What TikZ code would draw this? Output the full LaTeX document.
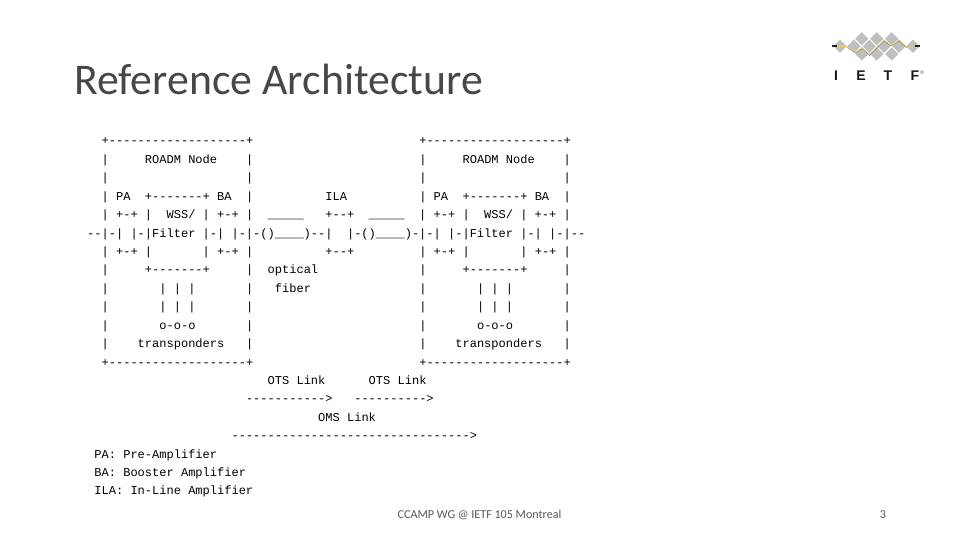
\documentclass[tikz,border=0pt]{standalone}
\usepackage{fontspec}
\setmainfont{Carlito}
\newfontfamily\asciifont{Liberation Mono}
\newfontfamily\logofont{Liberation Sans}
\tikzset{
  x=1pt,y=-1pt,
  asciiline/.style={anchor=base west,inner sep=0pt,font=\asciifont\fontsize{12.03}{14}\selectfont,text=black},
  titletext/.style={anchor=base west,inner sep=0pt,font=\fontsize{43.8}{48}\selectfont,text=black!72},
  foottext/.style={anchor=base,inner sep=0pt,font=\fontsize{12.1}{14}\selectfont,text=black!65},
  logoletter/.style={anchor=base,inner sep=0pt,font=\logofont\bfseries\fontsize{14}{15}\selectfont,text=black!90},
  gem/.style={fill=black!25,draw=none}
}
\newcommand{\gemat}[2]{\fill[gem] (#1-6.6,#2) -- (#1,#2-6.6) -- (#1+6.6,#2) -- (#1,#2+6.6) -- cycle;}
\begin{document}
\begin{tikzpicture}
\useasboundingbox (0,0) rectangle (960,540);
\fill[white] (0,0) rectangle (960,540);
\node[titletext] (title) at (74,95) {Reference Architecture};
\foreach \n/\i/\t in {
 a0/0/{~~+-------------------+~~~~~~~~~~~~~~~~~~~~~~~+-------------------+},
 a1/1/{~~|~~~~~ROADM~Node~~~~|~~~~~~~~~~~~~~~~~~~~~~~|~~~~~ROADM~Node~~~~|},
 a2/2/{~~|~~~~~~~~~~~~~~~~~~~|~~~~~~~~~~~~~~~~~~~~~~~|~~~~~~~~~~~~~~~~~~~|},
 a3/3/{~~|~PA~~+-------+~BA~~|~~~~~~~~~~ILA~~~~~~~~~~|~PA~~+-------+~BA~~|},
 a4/4/{~~|~+-+~|~~WSS/~|~+-+~|~~\_\_\_\_\_~~~+--+~~\_\_\_\_\_~~|~+-+~|~~WSS/~|~+-+~|},
 a5/5/{--|-|~|-|Filter~|-|~|-|-()\_\_\_\_)--|~~|-()\_\_\_\_)-|-|~|-|Filter~|-|~|-|--},
 a6/6/{~~|~+-+~|~~~~~~~|~+-+~|~~~~~~~~~~+--+~~~~~~~~~|~+-+~|~~~~~~~|~+-+~|},
 a7/7/{~~|~~~~~+-------+~~~~~|~~optical~~~~~~~~~~~~~~|~~~~~+-------+~~~~~|},
 a8/8/{~~|~~~~~~~|~|~|~~~~~~~|~~~fiber~~~~~~~~~~~~~~~|~~~~~~~|~|~|~~~~~~~|},
 a9/9/{~~|~~~~~~~|~|~|~~~~~~~|~~~~~~~~~~~~~~~~~~~~~~~|~~~~~~~|~|~|~~~~~~~|},
 a10/10/{~~|~~~~~~~o-o-o~~~~~~~|~~~~~~~~~~~~~~~~~~~~~~~|~~~~~~~o-o-o~~~~~~~|},
 a11/11/{~~|~~~~transponders~~~|~~~~~~~~~~~~~~~~~~~~~~~|~~~~transponders~~~|},
 a12/12/{~~+-------------------+~~~~~~~~~~~~~~~~~~~~~~~+-------------------+},
 a13/13/{~~~~~~~~~~~~~~~~~~~~~~~~~OTS~Link~~~~~~OTS~Link},
 a14/14/{~~~~~~~~~~~~~~~~~~~~~~----------->~~~---------->},
 a15/15/{~~~~~~~~~~~~~~~~~~~~~~~~~~~~~~~~OMS~Link},
 a16/16/{~~~~~~~~~~~~~~~~~~~~--------------------------------->},
 a17/17/{~PA:~Pre-Amplifier},
 a18/18/{~BA:~Booster~Amplifier},
 a19/19/{~ILA:~In-Line~Amplifier}}{
  \node[asciiline] (\n) at (87,{145+\i*18.42}) {\t};
}
\node[foottext] (foot) at (479.5,518) {CCAMP WG @ IETF 105 Montreal};
\node[foottext] (page) at (883,518) {3};
% logo
\gemat{840}{46.3}\gemat{854}{46.3}\gemat{869.3}{46.3}\gemat{884}{46.3}\gemat{899}{46.3}\gemat{913}{46.3}
\gemat{861.7}{38.7}\gemat{876.7}{38.7}\gemat{891.7}{38.7}
\gemat{861.7}{54}\gemat{876.7}{54}\gemat{891.7}{54}
\draw[line width=0.5pt,black!50] (847,47.3) -- (856,53) -- (862,48.5) -- (869.5,55.5) -- (884,41) -- (891,46) -- (899,41) -- (907,48);
\draw[line width=0.8pt,color=yellow!45!brown!70!white] (836,46.5) -- (847,46.5) -- (856,52) -- (862,47.5) -- (869.5,54.5) -- (884,40) -- (891,45) -- (899,40) -- (907,47) -- (917,47);
\draw[line width=2pt,black!85] (832,46.5) -- (837,46.5);
\draw[line width=2pt,black!85] (915,46.5) -- (920,46.5);
\node[logoletter] (li) at (836,80.5) {I};
\node[logoletter] (le) at (861,80.5) {E};
\node[logoletter] (lt) at (888,80.5) {T};
\node[logoletter] (lf) at (915,80.5) {F};
\node[anchor=base west,inner sep=0pt,font=\logofont\fontsize{5.5}{6}\selectfont,text=black!60] (lr) at (920,75) {®};
\end{tikzpicture}
\end{document}
